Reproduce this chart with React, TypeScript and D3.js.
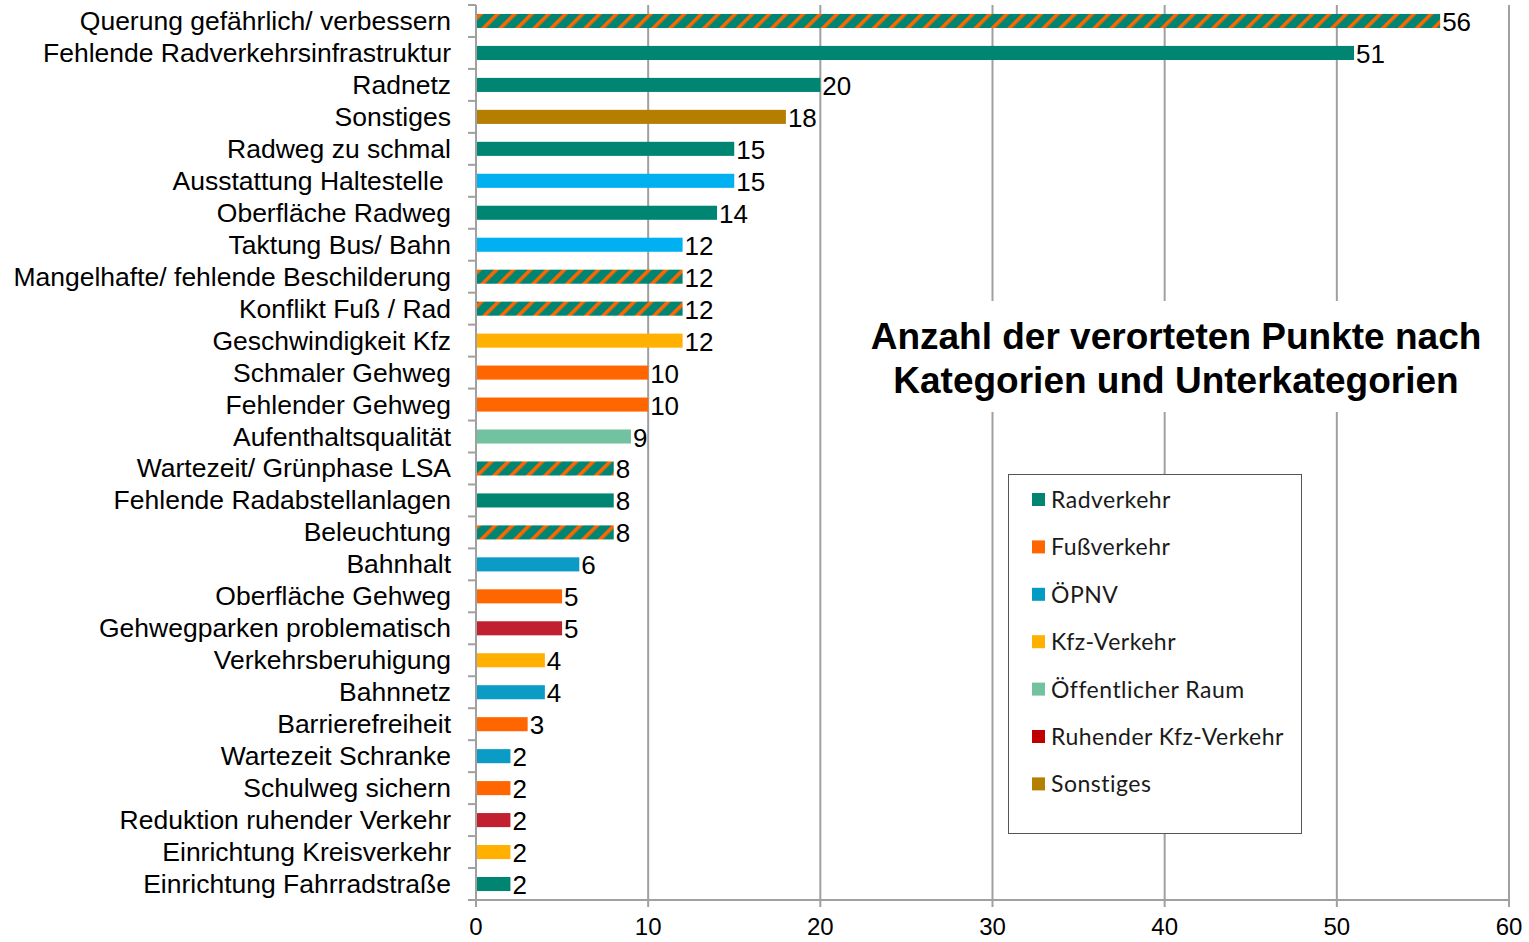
import React from 'react';
import * as d3 from 'd3';

// categories top to bottom
const categories = [
  'Querung gefährlich/ verbessern',
  'Fehlende Radverkehrsinfrastruktur',
  'Radnetz',
  'Sonstiges',
  'Radweg zu schmal',
  'Ausstattung Haltestelle ',
  'Oberfläche Radweg',
  'Taktung Bus/ Bahn',
  'Mangelhafte/ fehlende Beschilderung',
  'Konflikt Fuß / Rad',
  'Geschwindigkeit Kfz',
  'Schmaler Gehweg',
  'Fehlender Gehweg',
  'Aufenthaltsqualität',
  'Wartezeit/ Grünphase LSA',
  'Fehlende Radabstellanlagen',
  'Beleuchtung',
  'Bahnhalt',
  'Oberfläche Gehweg',
  'Gehwegparken problematisch',
  'Verkehrsberuhigung',
  'Bahnnetz',
  'Barrierefreiheit',
  'Wartezeit Schranke',
  'Schulweg sichern',
  'Reduktion ruhender Verkehr',
  'Einrichtung Kreisverkehr',
  'Einrichtung Fahrradstraße',
];

const values = [56, 51, 20, 18, 15, 15, 14, 12, 12, 12, 12, 10, 10, 9, 8, 8, 8, 6, 5, 5, 4, 4, 3, 2, 2, 2, 2, 2];

// main category of each bar ("Bus" = lighter ÖPNV shade)
const groups = [
  'Radverkehr', 'Radverkehr', 'Radverkehr', 'Sonstiges', 'Radverkehr', 'Bus', 'Radverkehr',
  'Bus', 'Radverkehr', 'Radverkehr', 'Kfz-Verkehr', 'Fußverkehr', 'Fußverkehr',
  'Öffentlicher Raum', 'Radverkehr', 'Radverkehr', 'Radverkehr', 'ÖPNV', 'Fußverkehr',
  'Ruhender Kfz-Verkehr', 'Kfz-Verkehr', 'ÖPNV', 'Fußverkehr', 'ÖPNV', 'Fußverkehr',
  'Ruhender Kfz-Verkehr', 'Kfz-Verkehr', 'Radverkehr',
];

// bars that also belong to Fußverkehr (striped)
const shared = [
  'Querung gefährlich/ verbessern',
  'Mangelhafte/ fehlende Beschilderung',
  'Konflikt Fuß / Rad',
  'Wartezeit/ Grünphase LSA',
  'Beleuchtung',
];

const legendItems = ['Radverkehr', 'Fußverkehr', 'ÖPNV', 'Kfz-Verkehr', 'Öffentlicher Raum', 'Ruhender Kfz-Verkehr', 'Sonstiges'];
const xTicks = [0, 10, 20, 30, 40, 50, 60];

const barColor: Record<string, string> = {
  'Radverkehr': '#008572',
  'Fußverkehr': '#FF6600',
  'ÖPNV': '#0A9CC4',
  'Bus': '#00B0F0',
  'Kfz-Verkehr': '#FFB000',
  'Öffentlicher Raum': '#72C1A0',
  'Ruhender Kfz-Verkehr': '#C0202F',
  'Sonstiges': '#B47E00',
};
const legendColor: Record<string, string> = {
  ...barColor,
  'ÖPNV': '#009CC4',
  'Ruhender Kfz-Verkehr': '#C00000',
};

const W = 1529;
const H = 942;
const plot = { left: 476, right: 1509, top: 5, bottom: 900 };
const font = 'Liberation Sans, Arial, sans-serif';

export default function App() {
  const x = d3.scaleLinear().domain([0, 60]).range([plot.left, plot.right]);
  const y = d3.scaleBand().domain(categories).range([plot.top, plot.bottom]).paddingInner(0.56).paddingOuter(0.28);
  const bandEdges = d3.range(categories.length + 1).map(i => plot.top + i * (plot.bottom - plot.top) / categories.length);
  const grid = '#A0A0A0';

  return (
    <svg width={W} height={H} style={{ position: 'absolute', left: 0, top: 0, background: '#fff' }}>
      <defs>
        <pattern id="stripe" patternUnits="userSpaceOnUse" width={12} height={12} patternTransform="rotate(45)">
          <rect width={12} height={12} fill={barColor['Radverkehr']} />
          <rect width={3.6} height={12} fill={barColor['Fußverkehr']} />
        </pattern>
      </defs>

      {/* vertical grid */}
      {xTicks.slice(1).map(t => (
        <line key={t} x1={x(t)} x2={x(t)} y1={plot.top} y2={plot.bottom + 7} stroke={grid} strokeWidth={2} />
      ))}

      {/* title with white backing */}
      <rect x={858} y={301} width={640} height={111} fill="#fff" />
      <text x={1176} y={349} textAnchor="middle" fontFamily={font} fontWeight="bold" fontSize={37} fill="#000">
        Anzahl der verorteten Punkte nach
      </text>
      <text x={1176} y={393} textAnchor="middle" fontFamily={font} fontWeight="bold" fontSize={37} fill="#000">
        Kategorien und Unterkategorien
      </text>

      {/* legend */}
      <rect x={1008.5} y={474.5} width={293} height={359} fill="#fff" stroke="#555" strokeWidth={1} />
      {legendItems.map((g, i) => (
        <g key={g} transform={`translate(1032, ${500 + i * 47.4})`}>
          <rect x={0} y={-7} width={13} height={13} fill={legendColor[g]} />
          <text x={19} y={8} fontFamily="Lato, 'Open Sans', sans-serif" fontSize={23} fill="#1a1a1a" letterSpacing={0.5}>{g}</text>
        </g>
      ))}

      {/* bars */}
      {categories.map((c, i) => (
        <rect key={c} x={x(0)} y={y(c)} width={x(values[i]) - x(0)} height={y.bandwidth()}
          fill={shared.includes(c) ? 'url(#stripe)' : barColor[groups[i]]} />
      ))}

      {/* value labels */}
      {categories.map((c, i) => (
        <text key={c} x={x(values[i]) + 2} y={(y(c) ?? 0) + y.bandwidth() / 2 + 10}
          fontFamily={font} fontSize={26} fill="#000">{values[i]}</text>
      ))}

      {/* y axis */}
      <line x1={plot.left} x2={plot.left} y1={plot.top} y2={plot.bottom} stroke={grid} strokeWidth={2} />
      {bandEdges.map((e, i) => (
        <line key={i} x1={plot.left - 8} x2={plot.left} y1={e} y2={e} stroke={grid} strokeWidth={2} />
      ))}
      {categories.map(c => (
        <text key={c} x={451} y={(y(c) ?? 0) + y.bandwidth() / 2 + 9} textAnchor="end"
          fontFamily={font} fontSize={26.5} fill="#000" style={{ whiteSpace: 'pre' }}>{c}</text>
      ))}

      {/* x axis */}
      <line x1={plot.left - 8} x2={plot.right} y1={plot.bottom} y2={plot.bottom} stroke={grid} strokeWidth={2} />
      <line x1={plot.left} x2={plot.left} y1={plot.bottom} y2={plot.bottom + 7} stroke={grid} strokeWidth={2} />
      {xTicks.map(t => (
        <text key={t} x={x(t)} y={935} textAnchor="middle" fontFamily={font} fontSize={24} fill="#000">{t}</text>
      ))}
    </svg>
  );
}
